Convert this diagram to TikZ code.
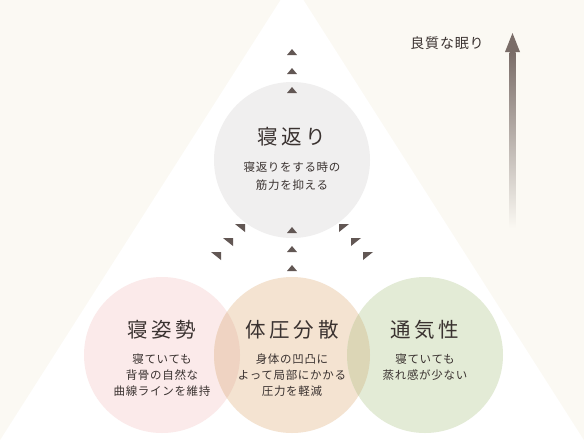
\documentclass[tikz,border=0pt]{standalone}
\usepackage{fontspec}
\newfontfamily\jpt[LetterSpace=18]{Noto Sans CJK JP}
\newfontfamily\jps[LetterSpace=6]{Noto Sans CJK JP}
\definecolor{bgc}{HTML}{FBF9F3}
\definecolor{gc}{HTML}{F0EFEF}
\definecolor{pk}{HTML}{FBEAEA}
\definecolor{bei}{HTML}{F4E3D1}
\definecolor{grn}{HTML}{E3EBD6}
\definecolor{pkbe}{HTML}{EFD3C2}
\definecolor{begr}{HTML}{DCD6B6}
\definecolor{mk}{HTML}{625754}
\definecolor{txt}{HTML}{3A3230}
\definecolor{arr}{HTML}{7A6D68}
\tikzset{
  circ/.style={circle,inner sep=0pt,minimum size=156pt},
  ttl/.style={text=txt,font=\jpt\fontsize{20.5}{24}\selectfont,inner sep=0pt},
  sub/.style={text=txt,font=\jps\fontsize{11.5}{16}\selectfont,align=center,inner sep=0pt},
  lbl/.style={text=txt,font=\jps\fontsize{14}{16}\selectfont,inner sep=0pt},
  uptri/.pic={\fill[mk] (-5,3) -- (5,3) -- (0,-3) -- cycle;},
  urtri/.pic={\fill[mk] (-5,-4) -- (5,-4) -- (5,4) -- cycle;},
  ultri/.pic={\fill[mk] (-5,-4) -- (5,-4) -- (-5,4) -- cycle;}
}
\begin{document}
\begin{tikzpicture}[x=1pt,y=-1pt]
\useasboundingbox (0,0) rectangle (584,445);
\clip (0,0) rectangle (584,445);
\fill[bgc] (0,0) rectangle (584,445);
\fill[white] (292,-18) -- (-10,456) -- (594,456) -- cycle;
% circles
\node[circ,fill=gc] (top) at (292,160) {};
\node[circ,fill=pk] (pink) at (162,355) {};
\node[circ,fill=bei] (beige) at (292,355) {};
\node[circ,fill=grn] (green) at (425,355) {};
\begin{scope}
  \clip (pink.center) circle (78);
  \fill[pkbe] (beige.center) circle (78);
\end{scope}
\begin{scope}
  \clip (green.center) circle (78);
  \fill[begr] (beige.center) circle (78);
\end{scope}
% texts
\node[ttl] (t0) at (292,137) {寝返り};
\node[sub,font=\jps\fontsize{11.5}{18}\selectfont] (s0) at (292,176) {寝返りをする時の\\筋力を抑える};
\node[ttl] (t1) at (162,330) {寝姿勢};
\node[sub] (s1) at (162,375) {寝ていても\\背骨の自然な\\曲線ラインを維持};
\node[ttl] (t2) at (292,330) {体圧分散};
\node[sub] (s2) at (292,375) {身体の凹凸に\\よって局部にかかる\\圧力を軽減};
\node[ttl] (t3) at (425,330) {通気性};
\node[sub] (s3) at (425,367) {寝ていても\\蒸れ感が少ない};
% markers
\pic at (292,52) {uptri};
\pic at (292,71) {uptri};
\pic at (292,90) {uptri};
\pic at (292,230) {uptri};
\pic at (292,249) {uptri};
\pic at (292,268) {uptri};
\pic at (240,228) {urtri};
\pic at (228,242) {urtri};
\pic at (216,256) {urtri};
\pic at (344,228) {ultri};
\pic at (356,242) {ultri};
\pic at (368,256) {ultri};
% quality arrow
\coordinate (abot) at (512.5,228);
\coordinate (atop) at (512.5,33);
\shade[top color=arr,middle color=arr,bottom color=bgc] ([xshift=-3pt]abot) rectangle ([xshift=3pt,yshift=-19pt]atop);
\fill[arr] (atop) -- ++(7.5,19) -- ++(-15,0) -- cycle;
\node[lbl] (goal) at (447,43) {良質な眠り};
\end{tikzpicture}
\end{document}
